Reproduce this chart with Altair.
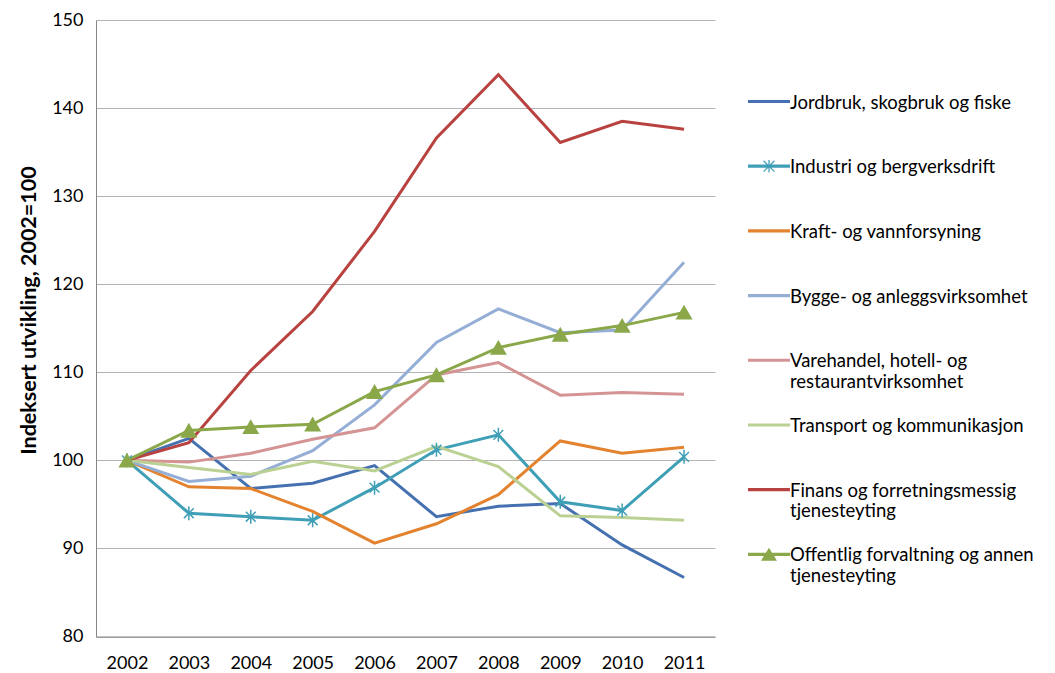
import altair as alt
import pandas as pd

years = list(range(2002, 2012))

# "|" separates the two legend lines (second line empty for one-line labels)
series_names = [
    "Jordbruk, skogbruk og fiske|",
    "Industri og bergverksdrift|",
    "Kraft- og vannforsyning|",
    "Bygge- og anleggsvirksomhet|",
    "Varehandel, hotell- og|restaurantvirksomhet",
    "Transport og kommunikasjon|",
    "Finans og forretningsmessig|tjenesteyting",
    "Offentlig forvaltning og annen|tjenesteyting",
]

jordbruk   = [100, 102.5, 96.8, 97.4, 99.4, 93.6, 94.8, 95.1, 90.4, 86.7]
industri   = [100, 94.0, 93.6, 93.2, 96.9, 101.2, 102.9, 95.3, 94.3, 100.4]
kraft      = [100, 97.0, 96.8, 94.2, 90.6, 92.8, 96.1, 102.2, 100.8, 101.5]
bygge      = [100, 97.6, 98.2, 101.1, 106.3, 113.4, 117.2, 114.5, 114.8, 122.5]
varehandel = [100, 99.8, 100.8, 102.4, 103.7, 109.7, 111.1, 107.4, 107.7, 107.5]
transport  = [100, 99.2, 98.4, 99.9, 98.8, 101.6, 99.3, 93.7, 93.5, 93.2]
finans     = [100, 102.0, 110.2, 116.9, 126.0, 136.6, 143.8, 136.1, 138.5, 137.6]
offentlig  = [100, 103.4, 103.8, 104.1, 107.8, 109.7, 112.8, 114.3, 115.3, 116.8]

colors = ["#4571B0", "#3F9FB7", "#E3832F", "#94AED6", "#D59494", "#BBD193", "#B8423F", "#8AA84A"]

all_values = [jordbruk, industri, kraft, bygge, varehandel, transport, finans, offentlig]

rows = []
for s_i, (name, vals) in enumerate(zip(series_names, all_values)):
    for y, v in zip(years, vals):
        rows.append({"year": str(y), "value": v, "series": name, "order": s_i})
df = pd.DataFrame(rows)


# legend symbol paths (unit space, +-1 = half symbol width), shifted down by DY
def path(points_list):
    out = ""
    for pts in points_list:
        out += "M" + "L".join(f"{x:.3f},{y + DY:.3f}" for x, y in pts) + "Z"
    return out


DY = 0.38
line_rect = [[(-1, -0.075), (1, -0.075), (1, 0.075), (-1, 0.075)]]
aster = [
    [(-0.03, -0.3), (0.03, -0.3), (0.03, 0.3), (-0.03, 0.3)],
    [(-0.28, -0.24), (-0.24, -0.28), (0.28, 0.24), (0.24, 0.28)],
    [(-0.28, 0.24), (0.24, -0.28), (0.28, -0.24), (-0.24, 0.28)],
]
tri = [[(0, -0.32), (0.38, 0.3), (-0.38, 0.3)]]
legend_shapes = [path(line_rect), path(line_rect + aster), path(line_rect), path(line_rect),
                 path(line_rect), path(line_rect), path(line_rect), path(line_rect + tri)]

W, H = 619, 616.5

x_enc = alt.X("year:O", scale=alt.Scale(type="point", padding=0.5),
              axis=alt.Axis(title=None, labelAngle=0, labelFont="Lato", labelFontSize=18,
                            labelColor="#000000", labelPadding=18, ticks=False,
                            domainColor="#868686", domainWidth=1, grid=False))
y_enc = alt.Y("value:Q", scale=alt.Scale(domain=[80, 150], nice=False, zero=False),
              axis=alt.Axis(title="Indeksert utvikling, 2002=100", values=[80, 90, 100, 110, 120, 130, 140, 150],
                            labelFont="Lato", labelFontSize=18, labelColor="#000000",
                            labelPadding=13, ticks=False, domainColor="#868686",
                            gridColor="#B3B3B3", gridWidth=1,
                            titleFont="Lato", titleFontSize=21.5, titleFontWeight="bold",
                            titleColor="#000000", titlePadding=11, titleY=290))

color_scale = alt.Scale(domain=series_names, range=colors)

legend_cfg = alt.Legend(
    title=None, orient="none", legendX=652, legendY=52.5,
    labelFont="Lato", labelFontSize=18.5, labelColor="#000000", labelBaseline="top",
    labelExpr="split(datum.label, '|')", labelLimit=400, labelOffset=0,
    symbolSize=1764, symbolStrokeWidth=0, symbolOpacity=1,
    rowPadding=4.7, padding=0, clipHeight=42,
)

base = alt.Chart(df)

lines = base.mark_line(strokeWidth=3).encode(
    x=x_enc, y=y_enc,
    color=alt.Color("series:N", scale=color_scale, legend=legend_cfg),
    detail="series:N",
)

legend_layer = base.mark_point(filled=True, opacity=0).encode(
    x=x_enc, y=y_enc,
    color=alt.Color("series:N", scale=color_scale, legend=legend_cfg),
    shape=alt.Shape("series:N", scale=alt.Scale(domain=series_names, range=legend_shapes),
                    legend=legend_cfg),
)

ind_pts = alt.Chart(df[df["series"] == series_names[1]]).mark_point(
    shape="M-0.7,-0.7L0.7,0.7M-0.7,0.7L0.7,-0.7M0,-1V1", filled=False,
    size=196, strokeWidth=1.5, color="#3F9FB7", opacity=1,
).encode(x=x_enc, y=y_enc)

off_pts = alt.Chart(df[df["series"] == series_names[7]]).mark_point(
    shape="M0,-0.9L1,0.85L-1,0.85Z", filled=True, size=289,
    color="#8AA84A", opacity=1,
).encode(x=x_enc, y=y_enc)

chart = alt.layer(lines, ind_pts, off_pts, legend_layer).properties(
    width=W, height=H,
    autosize=alt.AutoSizeParams(type="none"),
    padding={"left": 88, "top": 12, "right": 330, "bottom": 37},
).configure_view(strokeWidth=0, stroke="transparent")

chart.save("out.html", embed_options={"renderer": "svg", "actions": False})
